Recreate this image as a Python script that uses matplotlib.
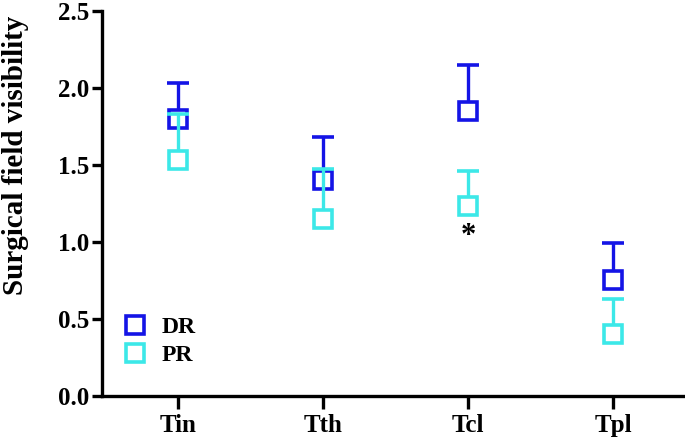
import numpy as np
import matplotlib
matplotlib.use("Agg")
import matplotlib.pyplot as plt
from matplotlib.lines import Line2D

categories = ["Tin", "Tth", "Tcl", "Tpl"]
dr_mean = [1.80, 1.40, 1.85, 0.75]
dr_err = [0.23, 0.28, 0.30, 0.24]
pr_mean = [1.53, 1.15, 1.23, 0.40]
pr_err = [0.30, 0.32, 0.23, 0.23]
yticks = [0.0, 0.5, 1.0, 1.5, 2.0, 2.5]
ytick_labels = ["0.0", "0.5", "1.0", "1.5", "2.0", "2.5"]

DR_COLOR = "#1414E6"
PR_COLOR = "#3CE8E8"

plt.rcParams["font.family"] = ["Liberation Serif", "DejaVu Serif"]
plt.rcParams["font.weight"] = "bold"

fig = plt.figure(figsize=(6.85, 4.37), dpi=100)
ax = fig.add_axes([0.149, 0.094, 0.848, 0.8815])

x = np.arange(len(categories))

for i, (mean, err, color) in enumerate([(dr_mean, dr_err, DR_COLOR), (pr_mean, pr_err, PR_COLOR)]):
    cont = ax.errorbar(x, mean, yerr=[np.zeros(len(err)), err], fmt="s",
                       color=color, ecolor=color, elinewidth=2.4, capsize=8,
                       capthick=2.6, markersize=13, markeredgewidth=2.6,
                       markerfacecolor="white", markeredgecolor=color,
                       zorder=3 + 2 * i)
    cont[1][0].set_visible(False)
    cont[0].set_zorder(4 + 2 * i)
    for c in cont[1]:
        c.set_zorder(3 + 2 * i)
    for c in cont[2]:
        c.set_zorder(3 + 2 * i)

ax.text(2, 1.13, "*", ha="center", va="top", fontsize=22, fontweight="bold")

ax.set_xlim(-0.52, 3.48)
ax.set_ylim(0, 2.5)
ax.set_xticks(x)
ax.set_xticklabels(categories, fontsize=18, fontweight="bold")
ax.set_yticks(yticks)
ax.set_yticklabels(ytick_labels, fontsize=18, fontweight="bold")
ax.set_ylabel("Surgical field visibility", fontsize=21, fontweight="bold", va="center")
ax.yaxis.set_label_coords(-0.149, 0.625)

for s in ["top", "right"]:
    ax.spines[s].set_visible(False)
for s in ["left", "bottom"]:
    ax.spines[s].set_linewidth(2.4)
ax.tick_params(axis="both", width=2.4, length=7, pad=2)
ax.tick_params(axis="x", length=9, pad=4)

handles = [Line2D([], [], marker="s", linestyle="none", markersize=13,
                  markeredgewidth=2.6, markerfacecolor="white",
                  markeredgecolor=DR_COLOR, label="DR"),
           Line2D([], [], marker="s", linestyle="none", markersize=13,
                  markeredgewidth=2.6, markerfacecolor="white",
                  markeredgecolor=PR_COLOR, label="PR")]
leg = ax.legend(handles=handles, loc="upper left", bbox_to_anchor=(-0.005, 0.262),
                frameon=False, prop={"family": "Liberation Serif", "weight": "bold", "size": 17},
                handlelength=1.2, handletextpad=0.55, labelspacing=0.3)

fig.savefig("out.png", dpi=100)
